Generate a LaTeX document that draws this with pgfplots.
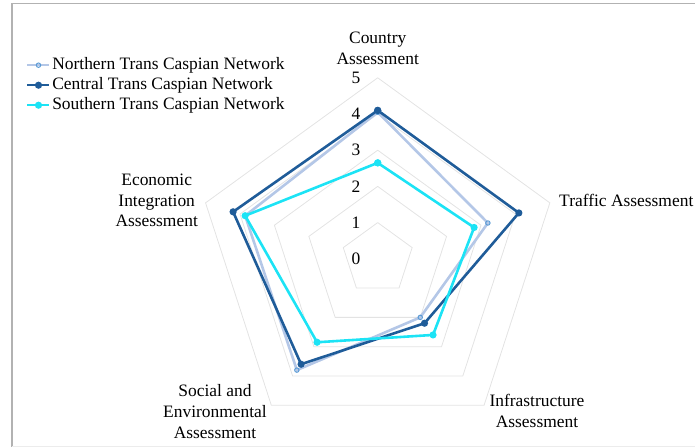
\documentclass[border=0pt]{standalone}
\usepackage{fontspec}
\setmainfont{Liberation Serif}
\usepackage{pgfplots}
\pgfplotsset{compat=1.18}
\usepgfplotslibrary{polar}
\definecolor{north}{HTML}{B4C7E7}
\definecolor{northmk}{HTML}{5B9BD5}
\definecolor{central}{HTML}{1F5C99}
\definecolor{south}{HTML}{1CE3F5}
\definecolor{ring}{HTML}{E3E3E3}
\newcommand{\lbl}{\fontsize{17.5}{20.7}\selectfont}

\begin{document}
\begin{tikzpicture}[x=1bp,y=1bp]
\useasboundingbox (0,0) rectangle (695,447);
\clip (0,0) rectangle (695,447);
% chart frame
\draw[gray!60, line width=1.3bp] (12,0) -- (12,443.5) -- (700,443.5);
\draw[gray!15, line width=0.8bp] (12,1) -- (700,1);

\begin{polaraxis}[
    at={(377.7bp,188.2bp)}, anchor=origin,
    width=362bp, height=362bp, scale only axis,
    xmin=0, xmax=360, ymin=0, ymax=5,
    hide axis, clip=false,
    font=\lbl,
    legend style={
        at={(axis cs:149.91,11.229)}, anchor=north west,
        draw=none, fill=none, inner sep=0pt, row sep=0pt,
        font=\lbl,
        nodes={inner sep=1.5bp, text height=12.5bp, text depth=4.5bp},
        cells={anchor=west},
    },
    legend image code/.code={
        \draw[mark repeat=2,mark phase=2] plot coordinates {(0bp,0bp)(11bp,0bp)(22bp,0bp)};
    },
]
% pentagon grid rings
\pgfplotsinvokeforeach{1,2,3,4,5}{
    \addplot[ring, line width=0.8bp, no marks, forget plot]
        coordinates {(90,#1)(18,#1)(-54,#1)(-126,#1)(162,#1)(90,#1)};
}
% radial scale labels
\pgfplotsinvokeforeach{0,1,2,3,4,5}{
    \node[inner sep=0pt] at (axis cs:90,#1) [xshift=-21.7bp] {#1};
}

% order: Country, Traffic, Infrastructure, Social and Env., Economic Integration
\addplot[north, line width=2.6bp, mark=o, mark size=2.2bp,
    mark options={draw=northmk, fill=north, line width=1bp}]
    coordinates {(90,4.05)(18,3.2)(-54,2.0)(-126,3.8)(162,3.85)(90,4.05)};
\addlegendentry{Northern Trans Caspian Network}
\addplot[central, line width=2.6bp, mark=*, mark size=2.2bp]
    coordinates {(90,4.1)(18,4.1)(-54,2.2)(-126,3.6)(162,4.2)(90,4.1)};
\addlegendentry{Central Trans Caspian Network}
\addplot[south, line width=2.6bp, mark=*, mark size=2.2bp]
    coordinates {(90,2.65)(18,2.8)(-54,2.6)(-126,2.85)(162,3.85)(90,2.65)};
\addlegendentry{Southern Trans Caspian Network}
\end{polaraxis}

% category labels
\begin{scope}[every node/.style={font=\lbl, align=center, inner sep=0pt}]
\node at (377.7,398.5) {Country\\Assessment};
\node[anchor=west] at (559,247) {Traffic Assessment};
\node at (537,36) {Infrastructure\\Assessment};
\node at (215,35.5) {Social and\\Environmental\\Assessment};
\node at (156.7,246.5) {Economic\\Integration\\Assessment};
\end{scope}
\end{tikzpicture}
\end{document}
